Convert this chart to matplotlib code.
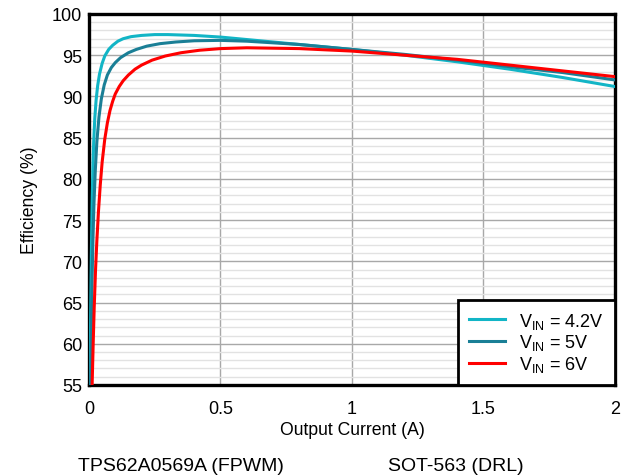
import numpy as np
import matplotlib.pyplot as plt
from matplotlib.ticker import MultipleLocator

plt.rcParams['font.family'] = ['Liberation Sans', 'DejaVu Sans']
plt.rcParams['mathtext.fontset'] = 'custom'
plt.rcParams['mathtext.rm'] = 'Liberation Sans'

# efficiency vs output current for three input voltages
i_42 = [0.004, 0.006, 0.008, 0.010, 0.012, 0.015, 0.018, 0.022, 0.027, 0.033, 0.04,
        0.05, 0.06, 0.075, 0.09, 0.11, 0.13, 0.16, 0.2, 0.25, 0.3,
        0.4, 0.5, 0.6, 0.8, 1.0, 1.2, 1.4, 1.6, 1.8, 2.0]
eff_42 = [55, 62, 68, 73, 77, 81.5, 84.5, 87.3, 89.5, 91.3, 92.7,
          94.0, 94.9, 95.7, 96.2, 96.7, 97.0, 97.25, 97.4, 97.5, 97.5,
          97.4, 97.2, 96.9, 96.3, 95.7, 95.0, 94.2, 93.3, 92.3, 91.2]

i_5 = [0.006, 0.009, 0.012, 0.015, 0.019, 0.024, 0.03, 0.038, 0.047, 0.058, 0.07,
       0.085, 0.1, 0.12, 0.15, 0.18, 0.22, 0.27, 0.33, 0.4,
       0.5, 0.6, 0.8, 1.0, 1.2, 1.4, 1.6, 1.8, 2.0]
eff_5 = [55, 62, 68, 72.5, 77, 81, 84.5, 87.5, 89.7, 91.4, 92.6,
         93.5, 94.1, 94.7, 95.3, 95.7, 96.1, 96.4, 96.6, 96.75,
         96.8, 96.7, 96.3, 95.7, 95.1, 94.4, 93.6, 92.9, 92.0]

i_6 = [0.012, 0.016, 0.02, 0.025, 0.03, 0.036, 0.043, 0.05, 0.06, 0.07, 0.08, 0.09,
       0.1, 0.115, 0.13, 0.15, 0.175, 0.2, 0.24, 0.29, 0.35, 0.42,
       0.5, 0.6, 0.8, 1.0, 1.2, 1.4, 1.6, 1.8, 2.0]
eff_6 = [55, 60, 64.5, 69, 72.5, 76, 79.3, 82, 84.8, 86.8, 88.3, 89.4,
         90.3, 91.2, 91.9, 92.6, 93.3, 93.8, 94.4, 94.9, 95.3, 95.6,
         95.8, 95.9, 95.8, 95.5, 95.0, 94.5, 93.8, 93.1, 92.4]

labels = ['V$_{\\rm IN}$ = 4.2V', 'V$_{\\rm IN}$ = 5V', 'V$_{\\rm IN}$ = 6V']
colors = ['#12b5c6', '#1a7f96', '#ff0000']

fig = plt.figure(figsize=(6.31, 4.77), dpi=100)
ax = fig.add_axes([0.141, 0.1908, 0.8336, 0.7778])

for x, y, lab, c in zip([i_42, i_5, i_6], [eff_42, eff_5, eff_6], labels, colors):
    ax.plot(x, y, color=c, lw=2.2, label=lab, zorder=3, solid_joinstyle='round')

ax.set_xlim(0, 2)
ax.set_ylim(55, 100)
ax.yaxis.set_major_locator(MultipleLocator(5))
ax.yaxis.set_minor_locator(MultipleLocator(1))
ax.set_xticks([0, 0.5, 1, 1.5, 2])
ax.set_xticklabels(['0', '0.5', '1', '1.5', '2'])

ax.grid(which='major', color='#a8a8a8', lw=1.0)
ax.grid(which='minor', axis='y', color='#e2e2e2', lw=1.0)
ax.tick_params(which='both', length=0, labelsize=13)
ax.tick_params(axis='x', pad=11)
ax.tick_params(axis='y', pad=5)

for s in ax.spines.values():
    s.set_linewidth(2.4)
    s.set_color('black')

ax.set_xlabel('Output Current (A)', fontsize=12.7, labelpad=3)
ax.set_ylabel('Efficiency (%)', fontsize=12.7, labelpad=10)

leg = ax.legend(loc='lower right', fontsize=13, borderaxespad=0, fancybox=False,
                handlelength=2.0, framealpha=1, labelspacing=0.1, borderpad=0.6)
leg.get_frame().set_edgecolor('black')
leg.get_frame().set_linewidth(2.0)

fig.text(0.124, 0.012, 'TPS62A0569A (FPWM)', fontsize=14)
fig.text(0.615, 0.012, 'SOT-563 (DRL)', fontsize=14)

fig.savefig('out.png', dpi=100)
